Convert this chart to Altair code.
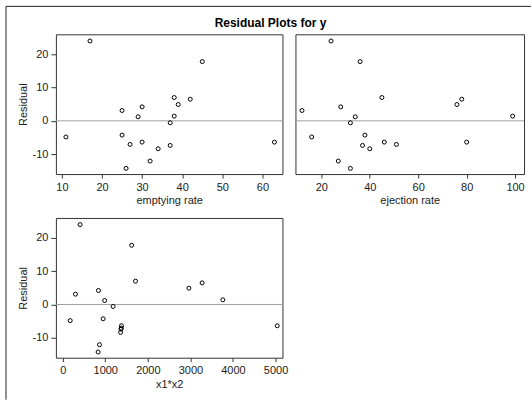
import altair as alt
import pandas as pd

# Data
residual = [24.0, -4.85, 3.1, -4.3, -14.3, -7.1, 1.2, 4.2, -6.4, -12.1,
            -8.4, -0.6, -7.4, 7.0, 1.4, 4.9, 6.5, 17.8, -6.4]
emptying_rate = [17, 11, 25, 25, 26, 27, 29, 30, 30, 32,
                 34, 37, 37, 38, 38, 39, 42, 45, 63]
ejection_rate = [24, 16, 12, 38, 32, 51, 34, 28, 46, 27,
                 40, 32, 37, 45, 99, 76, 78, 36, 80]
x1x2 = [408, 176, 300, 950, 832, 1377, 986, 840, 1380, 864,
        1360, 1184, 1369, 1710, 3762, 2964, 3276, 1620, 5040]

ticks_empty = [10, 20, 30, 40, 50, 60]
ticks_eject = [20, 40, 60, 80, 100]
ticks_x1x2 = [0, 1000, 2000, 3000, 4000, 5000]
ticks_res = [-10, 0, 10, 20]

df = pd.DataFrame({
    "residual": residual,
    "emptying": emptying_rate,
    "ejection": ejection_rate,
    "x1x2": x1x2,
})
zero_df = pd.DataFrame({"residual": [0]})
one_df = pd.DataFrame({"k": [0]})

FONT = "Liberation Sans"
YDOM = [-16, 26]


def panel(field, xtitle, xdom, xticks, show_y, w, extras=None):
    def yenc():
        ax = alt.Axis(values=ticks_res, title="Residual",
                      titleX=-32, titleBaseline="middle",
                      labelExpr="replace(datum.label, '\u2212', '-')") if show_y else None
        return alt.Y("residual:Q",
                     scale=alt.Scale(domain=YDOM, nice=False, zero=False),
                     axis=ax)
    zero = alt.Chart(zero_df).mark_rule(color="#a0a0a0", strokeWidth=1).encode(
        y=yenc()
    )
    pts = alt.Chart(df).mark_point(shape="circle", filled=False, size=16,
                                   color="black", strokeWidth=1, opacity=1).encode(
        x=alt.X(f"{field}:Q",
                scale=alt.Scale(domain=xdom, nice=False, zero=False),
                axis=alt.Axis(values=xticks, title=xtitle, format="d")),
        y=yenc(),
    )
    layers = [zero, pts]
    if extras:
        layers += extras
    return alt.layer(*layers).properties(width=w, height=140)


frame_top = alt.Chart(one_df).mark_rule(color="#222", strokeWidth=1).encode(
    x=alt.value(-50), x2=alt.value(476), y=alt.value(-28))
frame_left = alt.Chart(one_df).mark_rule(color="#222", strokeWidth=1).encode(
    x=alt.value(-50), y=alt.value(-28), y2=alt.value(366))
title_txt = alt.Chart(one_df).mark_text(
    text="Residual Plots for y", font=FONT, fontSize=12, fontWeight="bold",
    align="center", baseline="middle", color="black").encode(
    x=alt.value(215), y=alt.value(-11))

p1 = panel("emptying", "emptying rate", [8.5, 65], ticks_empty, True, 227,
           extras=[frame_top, frame_left, title_txt])
p2 = panel("ejection", "ejection rate", [9.3, 103.7], ticks_eject, False, 229)
p3 = panel("x1x2", "x1*x2", [-160, 5163], ticks_x1x2, True, 227)

chart = alt.concat(p1, p2, p3, columns=2,
                   spacing={"row": 44, "column": 13}, bounds="flush").properties(
    padding={"left": 5, "top": 5, "right": 0, "bottom": 0},
    background="white",
).configure_view(
    stroke="#333", strokeWidth=1
).configure_axis(
    grid=False, domain=False,
    labelFont=FONT, labelFontSize=11, labelColor="#222",
    titleFont=FONT, titleFontSize=11, titleFontWeight="normal", titleColor="#222",
    tickColor="#333", tickSize=4,
).configure_axisX(
    labelPadding=3, titlePadding=3,
).configure_axisY(
    tickSize=5, labelPadding=3, titlePadding=2,
)

chart.save("out.html", embed_options={"renderer": "svg", "actions": False})
